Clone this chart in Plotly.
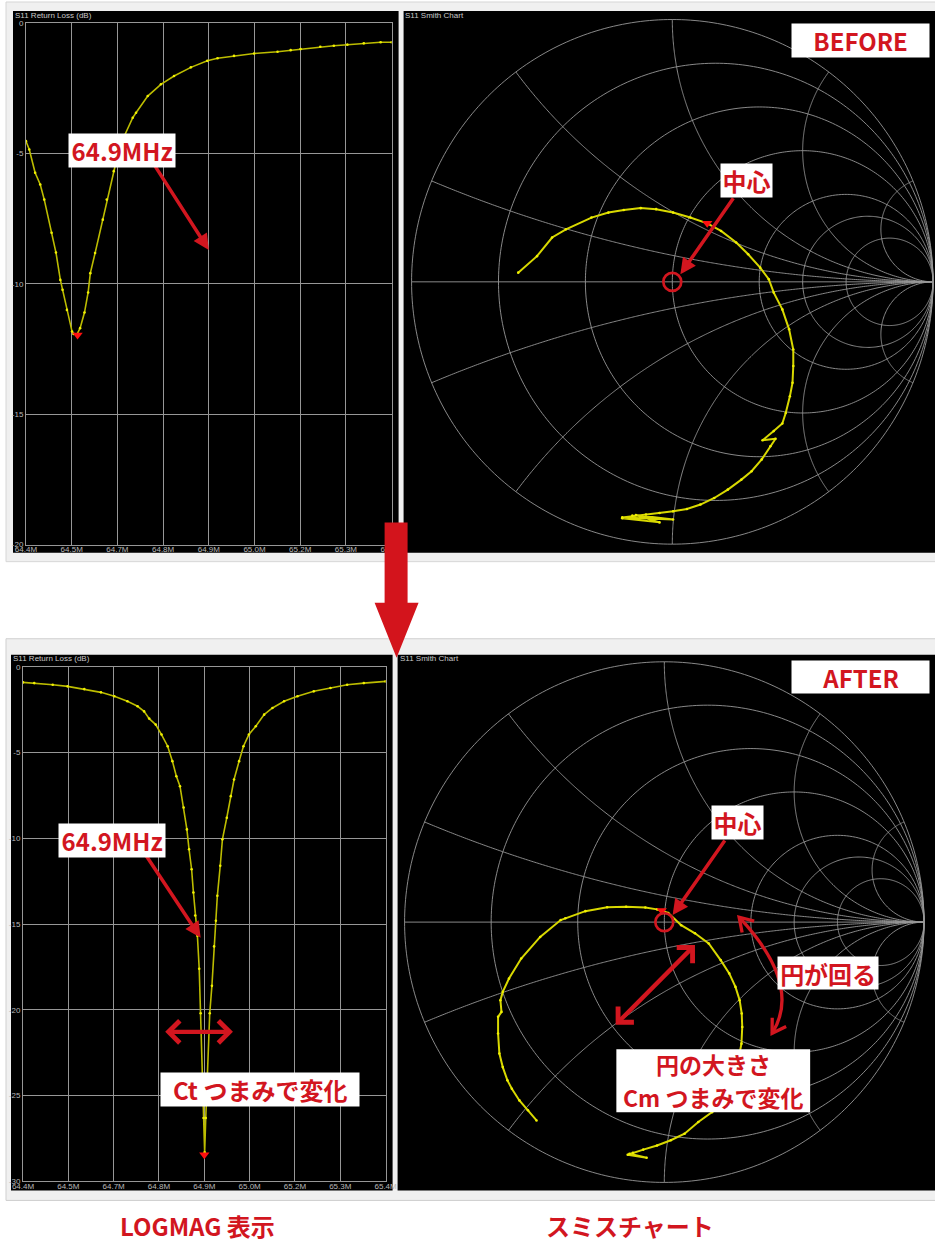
import numpy as np
import plotly.graph_objects as go

W, H = 935, 1249
RED = "#d2161f"
TRACE_LINE = "#bcbc00"
TRACE_DOT = "#f0f000"
GRID = "#979797"
TICK_FONT = dict(family="Liberation Sans, Arial, sans-serif", size=8, color="#b8b8b8")
LABEL_FONT = "Noto Sans CJK JP, Noto Sans, sans-serif"

# ---------------- data ----------------
# Return loss sweep 64.4-65.4 MHz, before tuning
before_freq = [64.400, 64.409, 64.425, 64.439, 64.450, 64.470, 64.482, 64.494, 64.500, 64.512,
               64.526, 64.530, 64.539, 64.548, 64.560, 64.570, 64.576, 64.589, 64.610, 64.621,
               64.640, 64.651, 64.669, 64.692, 64.701, 64.733, 64.769, 64.805, 64.851, 64.896,
               64.924, 64.969, 65.024, 65.088, 65.124, 65.151, 65.205, 65.242, 65.279, 65.324,
               65.370, 65.400]
before_db = [-4.53, -4.85, -5.74, -6.19, -6.77, -8.04, -8.80, -9.85, -10.23, -11.00,
             -11.83, -11.92, -11.95, -11.70, -11.10, -10.33, -9.59, -8.82, -7.54, -6.77,
             -5.68, -5.04, -4.33, -3.63, -3.44, -2.80, -2.35, -2.03, -1.70, -1.45,
             -1.35, -1.26, -1.17, -1.10, -1.04, -1.00, -0.91, -0.87, -0.83, -0.78,
             -0.74, -0.74]
before_marker = (64.541, -11.96)

# Return loss sweep after tuning
after_freq = [64.400, 64.431, 64.482, 64.523, 64.569, 64.615, 64.652, 64.688, 64.716, 64.734,
              64.748, 64.766, 64.782, 64.799, 64.812, 64.823, 64.833, 64.843, 64.852, 64.858,
              64.865, 64.870, 64.875, 64.881, 64.886, 64.890, 64.895, 64.898, 64.901, 64.904,
              64.909, 64.915, 64.921, 64.927, 64.932, 64.936, 64.944, 64.950, 64.962, 64.973,
              64.982, 64.996, 65.008, 65.023, 65.042, 65.065, 65.088, 65.120, 65.157, 65.202,
              65.248, 65.294, 65.340, 65.400]
after_db = [-0.91, -0.95, -1.05, -1.14, -1.30, -1.49, -1.72, -2.01, -2.30, -2.60,
            -3.02, -3.37, -3.95, -4.63, -5.50, -6.38, -6.96, -8.20, -9.48, -10.64,
            -11.80, -13.16, -14.50, -15.68, -17.60, -20.20, -23.80, -26.30, -28.30, -26.30,
            -23.80, -20.20, -18.60, -16.30, -14.80, -13.35, -11.60, -10.06, -8.80, -7.54,
            -6.57, -5.50, -4.63, -3.95, -3.47, -2.79, -2.40, -2.01, -1.72, -1.43,
            -1.24, -1.05, -0.95, -0.85]
after_marker = (64.900, -28.45)

# S11 reflection coefficient (real, imaginary), before tuning
before_re = [-0.591, -0.519, -0.461, -0.408, -0.310, -0.245, -0.186, -0.121, -0.062, 0.003,
             0.069, 0.134, 0.187, 0.245, 0.291, 0.337, 0.370, 0.389, 0.422, 0.448,
             0.464, 0.464, 0.461, 0.451, 0.435, 0.422, 0.389, 0.346, 0.396, 0.376,
             0.343, 0.304, 0.265, 0.213, 0.161, 0.108, 0.056, 0.003, -0.049, -0.101,
             -0.153, -0.192, 0.003, -0.140, -0.049, -0.192]
before_im = [0.035, 0.098, 0.169, 0.200, 0.245, 0.264, 0.274, 0.281, 0.277, 0.264,
             0.245, 0.223, 0.194, 0.150, 0.105, 0.054, 0.010, -0.041, -0.105, -0.181,
             -0.258, -0.321, -0.385, -0.436, -0.500, -0.540, -0.569, -0.604, -0.598, -0.627,
             -0.677, -0.722, -0.754, -0.792, -0.824, -0.849, -0.866, -0.875, -0.881, -0.887,
             -0.891, -0.898, -0.906, -0.889, -0.917, -0.901]
before_gamma_marker = (0.134, 0.223)

# S11 reflection coefficient after tuning
after_re = [-0.492, -0.525, -0.558, -0.587, -0.604, -0.622, -0.635, -0.640, -0.640, -0.627,
            -0.631, -0.622, -0.598, -0.551, -0.478, -0.399, -0.381, -0.304, -0.220, -0.147,
            -0.073, -0.028, 0.015, 0.065, 0.118, 0.171, 0.217, 0.250, 0.274, 0.290,
            0.298, 0.300, 0.297, 0.281, 0.242, 0.184, 0.131, 0.078, 0.025, -0.028,
            -0.081, -0.121, -0.141, -0.068, -0.134]
after_im = [-0.762, -0.723, -0.685, -0.640, -0.608, -0.557, -0.505, -0.428, -0.364, -0.345,
            -0.300, -0.268, -0.217, -0.140, -0.057, 0.008, 0.015, 0.042, 0.057, 0.059,
            0.056, 0.049, 0.035, -0.012, -0.043, -0.082, -0.146, -0.197, -0.249, -0.300,
            -0.351, -0.403, -0.467, -0.550, -0.646, -0.730, -0.768, -0.813, -0.838, -0.858,
            -0.874, -0.886, -0.894, -0.905, -0.890]
after_gamma_marker = (-0.010, 0.045)

freq_ticks = [64.4, 64.525, 64.65, 64.775, 64.9, 65.025, 65.15, 65.275, 65.4]
freq_tick_labels = ["64.4M", "64.5M", "64.7M", "64.8M", "64.9M", "65.0M", "65.2M", "65.3M", "65.4M"]
db_ticks_before = [0, -5, -10, -15, -20]
db_ticks_after = [0, -5, -10, -15, -20, -25, -30]

smith_r = [0, 0.2, 0.5, 1, 2, 3, 5]
smith_x = [0.2, 0.5, 1, 2, 5]

# ---------------- canvas helpers ----------------
# Layout positions below are given on a canvas grid; these convert them to paper fractions.
CANVAS_SX, CANVAS_SY = 0.9775, 0.9916
CANVAS_OX, CANVAS_OY = 10.0, 5.0


def px(x):
    return ((x - CANVAS_OX) / CANVAS_SX) / W


def py(y):
    return 1 - ((y - CANVAS_OY) / CANVAS_SY) / H


def canvas_x(p):
    return p * W * CANVAS_SX + CANVAS_OX


def canvas_y(p):
    return (1 - p) * H * CANVAS_SY + CANVAS_OY


def smith_axes(cx, cy, rx, ry, pad=0.03):
    dx = [max(0.0, px(cx - (1 + pad) * rx)), min(1.0, px(cx + (1 + pad) * rx))]
    dy = [max(0.0, py(cy + (1 + pad) * ry)), min(1.0, py(cy - (1 + pad) * ry))]
    rng_x = [(canvas_x(d) - cx) / rx for d in dx]
    rng_y = [(cy - canvas_y(d)) / ry for d in dy]
    return dx, rng_x, dy, rng_y


def smith_grid_curves():
    curves = []
    t = np.linspace(0, 2 * np.pi, 361)
    for r in smith_r:
        c, rad = r / (1 + r), 1 / (1 + r)
        curves.append((c + rad * np.cos(t), rad * np.sin(t)))
    rr = np.tan(np.linspace(0, np.pi / 2 * 0.9995, 320))
    for xv in smith_x:
        for s in (1, -1):
            g = (rr + 1j * s * xv - 1) / (rr + 1j * s * xv + 1)
            curves.append((g.real, g.imag))
    curves.append((np.array([-1.0, 1.0]), np.array([0.0, 0.0])))
    return curves


def smith_grid_shape(cx, cy, rx, ry):
    parts = []
    for gre, gim in smith_grid_curves():
        pts = [f"{px(cx + a * rx):.5f},{py(cy - b * ry):.5f}" for a, b in zip(gre, gim)]
        parts.append("M" + "L".join(pts))
    return dict(type="path", xref="paper", yref="paper", path="".join(parts),
                line=dict(color=GRID, width=0.9), layer="below")


def db_text(v):
    return "0" if v == 0 else "-" + str(-v)


fig = go.Figure()

# ---------------- axes ----------------
logmag_axis = dict(showgrid=True, gridcolor=GRID, gridwidth=1, zeroline=False,
                   showline=True, mirror=True, linecolor=GRID, linewidth=1,
                   ticks="", tickfont=TICK_FONT, fixedrange=True)
smith_axis = dict(visible=False, showgrid=False, zeroline=False, fixedrange=True)

S1 = dict(cx=672, cy=282.5, rx=261, ry=262)
S2 = dict(cx=664, cy=922, rx=260, ry=260)
s1_dx, s1_rx, s1_dy, s1_ry = smith_axes(**S1)
s2_dx, s2_rx, s2_dy, s2_ry = smith_axes(**S2)

fig.update_layout(
    xaxis=dict(domain=[px(25), px(391)], range=[64.4, 65.4], tickvals=freq_ticks,
               ticktext=freq_tick_labels, anchor="y", ticklabelstandoff=-3, **logmag_axis),
    yaxis=dict(domain=[py(545), py(24)], range=[-20, 0], tickvals=db_ticks_before,
               ticktext=[db_text(v) for v in db_ticks_before], anchor="x", **logmag_axis),
    xaxis3=dict(domain=[px(22), px(385)], range=[64.4, 65.4], tickvals=freq_ticks,
                ticktext=freq_tick_labels, anchor="y3", ticklabelstandoff=-3, **logmag_axis),
    yaxis3=dict(domain=[py(1181), py(667)], range=[-30, 0], tickvals=db_ticks_after,
                ticktext=[db_text(v) for v in db_ticks_after], anchor="x3", **logmag_axis),
    xaxis2=dict(domain=s1_dx, range=s1_rx, anchor="y2", **smith_axis),
    yaxis2=dict(domain=s1_dy, range=s1_ry, anchor="x2", **smith_axis),
    xaxis4=dict(domain=s2_dx, range=s2_rx, anchor="y4", **smith_axis),
    yaxis4=dict(domain=s2_dy, range=s2_ry, anchor="x4", **smith_axis),
)

# ---------------- traces ----------------
trace_style = dict(mode="lines+markers", line=dict(color=TRACE_LINE, width=1.6),
                   marker=dict(color=TRACE_DOT, size=2.6), hoverinfo="skip")
fig.add_trace(go.Scatter(x=before_freq, y=before_db, xaxis="x", yaxis="y", **trace_style))
fig.add_trace(go.Scatter(x=after_freq, y=after_db, xaxis="x3", yaxis="y3", **trace_style))

smith_style = dict(mode="lines+markers", line=dict(color="#d8d800", width=2),
                   marker=dict(color=TRACE_DOT, size=2.6), hoverinfo="skip")
fig.add_trace(go.Scatter(x=before_re, y=before_im, xaxis="x2", yaxis="y2", **smith_style))
fig.add_trace(go.Scatter(x=after_re, y=after_im, xaxis="x4", yaxis="y4", **smith_style))

marker_style = dict(mode="markers", marker=dict(symbol="triangle-down", color="#ff1010", size=9),
                    hoverinfo="skip")
fig.add_trace(go.Scatter(x=[before_marker[0]], y=[before_marker[1]], xaxis="x", yaxis="y", **marker_style))
fig.add_trace(go.Scatter(x=[after_marker[0]], y=[after_marker[1]], xaxis="x3", yaxis="y3", **marker_style))
fig.add_trace(go.Scatter(x=[before_gamma_marker[0]], y=[before_gamma_marker[1]], xaxis="x2", yaxis="y2",
                         **marker_style))
fig.add_trace(go.Scatter(x=[after_gamma_marker[0]], y=[after_gamma_marker[1]], xaxis="x4", yaxis="y4",
                         **marker_style))


# ---------------- panels ----------------
def rect(x0, y0, x1, y1, fill, line=None, layer="below"):
    return dict(type="rect", xref="paper", yref="paper", x0=px(x0), x1=px(x1), y0=py(y1), y1=py(y0),
                fillcolor=fill, line=dict(width=1 if line else 0, color=line or fill), layer=layer)


shapes = [
    rect(5, 3, 960, 562, "#f0f0f0", "#d6d6d6"),
    rect(12, 12, 398, 553, "#000000"),
    rect(403, 12, 960, 553, "#000000"),
    rect(5, 639, 960, 1200, "#f0f0f0", "#cfcfcf"),
    rect(10, 655, 392, 1190, "#000000"),
    rect(397, 655, 960, 1190, "#000000"),
    smith_grid_shape(**S1),
    smith_grid_shape(**S2),
    # white card behind the two-line Cm note
    rect(616, 1049, 810, 1112, "#ffffff", layer="above"),
]

# centre rings on both smith charts
for xa, ya, s in (("x2", "y2", S1), ("x4", "y4", S2)):
    rgx, rgy = 9 / s["rx"], 9 / s["ry"]
    shapes.append(dict(type="circle", xref=xa, yref=ya, x0=-rgx, x1=rgx, y0=-rgy, y1=rgy,
                       line=dict(color=RED, width=2.7), layer="above"))

# curved "rotation" arrow on the tuned smith chart
p0 = np.array([0.288, 0.019])
p1 = np.array([0.415, -0.427])
pm = np.array([0.442, -0.223])
ctrl = 2 * pm - 0.5 * (p0 + p1)
shapes.append(dict(type="path", xref="x4", yref="y4",
                   path=f"M{p0[0]},{p0[1]} Q{ctrl[0]},{ctrl[1]} {p1[0]},{p1[1]}",
                   line=dict(color=RED, width=3.3), layer="above"))


def chevron(tip, direction, length=0.06, ang=np.radians(32)):
    d = np.asarray(direction, float)
    d = d / np.linalg.norm(d)
    back = -d
    out = []
    for a in (ang, -ang):
        v = np.array([back[0] * np.cos(a) - back[1] * np.sin(a), back[0] * np.sin(a) + back[1] * np.cos(a)])
        out.append(tip + length * v)
    return f"M{out[0][0]},{out[0][1]} L{tip[0]},{tip[1]} L{out[1][0]},{out[1][1]}"


for tip in (p0, p1):
    shapes.append(dict(type="path", xref="x4", yref="y4", path=chevron(tip, tip - ctrl),
                       line=dict(color=RED, width=3.3), layer="above"))

# big downward arrow between the two screens
arrow_pts = [(384, 523), (407, 523), (407, 603), (418, 603), (396, 658), (374, 603), (384, 603)]
shapes.append(dict(type="path", xref="paper", yref="paper",
                   path="M" + " L".join(f"{px(x)},{py(y)}" for x, y in arrow_pts) + " Z",
                   fillcolor="#d3141c", line=dict(width=0), layer="above"))

fig.update_layout(shapes=shapes)

# ---------------- annotations ----------------
ann = []


def arrow(x, y, ax, ay, xa, ya, head=2, size=0.9, width=3.5, both=False):
    ann.append(dict(x=x, y=y, ax=ax, ay=ay, xref=xa, yref=ya, axref=xa, ayref=ya, text="",
                    showarrow=True, arrowhead=head, startarrowhead=head, arrowsize=size,
                    startarrowsize=size, arrowwidth=width, arrowcolor=RED,
                    arrowside="end+start" if both else "end"))


def label(text, cx, cy, w, h, size=24):
    ann.append(dict(x=px(cx), y=py(cy), xref="paper", yref="paper", xanchor="center", yanchor="middle",
                    text=f"<b>{text}</b>", showarrow=False, bgcolor="#ffffff",
                    width=w / CANVAS_SX, height=h / CANVAS_SY,
                    borderpad=0, align="center", valign="middle",
                    font=dict(family=LABEL_FONT, size=size, color=RED)))


def plain_text(text, cx, cy, size):
    ann.append(dict(x=px(cx), y=py(cy), xref="paper", yref="paper", xanchor="center", yanchor="middle",
                    text=f"<b>{text}</b>", showarrow=False,
                    font=dict(family=LABEL_FONT, size=size, color=RED)))


def title(text, x, y):
    ann.append(dict(x=px(x), y=py(y), xref="paper", yref="paper", xanchor="left", yanchor="middle",
                    text=text, showarrow=False,
                    font=dict(family="Liberation Sans, Arial, sans-serif", size=8, color="#c8c8c8")))


title("S11 Return Loss (dB)", 12, 16)
title("S11 Smith Chart", 402, 16)
title("S11 Return Loss (dB)", 10, 659)
title("S11 Smith Chart", 397, 659)

# pointers
arrow(64.9, -8.7, 64.75, -5.42, "x", "y")
arrow(64.89, -15.8, 64.733, -10.8, "x3", "y3")
arrow(0.031, 0.029, 0.238, 0.324, "x2", "y2")
arrow(0.032, 0.027, 0.237, 0.319, "x4", "y4")
arrow(0.118, -0.088, -0.193, -0.400, "x4", "y4", head=4, size=1.0, width=4.3, both=True)
arrow(64.979, -21.28, 64.788, -21.28, "x3", "y3", head=4, size=1.0, width=4.3, both=True)

label("64.9MHz", 121, 151.5, 104, 33)
label("BEFORE", 860, 41.5, 134, 33)
label("中心", 746, 181.5, 50, 33)
label("64.9MHz", 111, 840.5, 104, 33)
label("Ct つまみで変化", 259, 1089.5, 194, 33)
label("AFTER", 860, 677, 134, 32)
label("中心", 737, 822.5, 50, 33)
label("円が回る", 828, 973, 98, 32)
plain_text("円の大きさ", 713, 1063.5, 23)
plain_text("Cm つまみで変化", 713, 1097, 23)

# captions under the two screens, kept inside the page
plain_text("LOGMAG 表示", 197, 1225, 24)
plain_text("スミスチャート", 630, 1225, 24)

fig.update_layout(
    annotations=ann,
    width=W, height=H, autosize=False,
    margin=dict(l=0, r=0, t=0, b=0),
    paper_bgcolor="#ffffff", plot_bgcolor="rgba(0,0,0,0)",
    showlegend=False,
)

fig.write_html("out.html")
